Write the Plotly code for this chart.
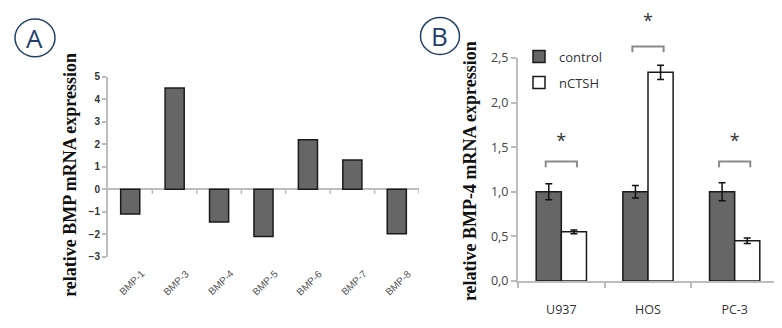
import plotly.graph_objects as go

W, H = 782, 328

# ---------------- data ----------------
genes = ["BMP-1", "BMP-3", "BMP-4", "BMP-5", "BMP-6", "BMP-7", "BMP-8"]
rel_expr = [-1.1, 4.5, -1.45, -2.1, 2.2, 1.3, -1.97]
a_ticks = [-3, -2, -1, 0, 1, 2, 3, 4, 5]

cells = ["U937", "HOS", "PC-3"]
control = [1.0, 1.0, 1.0]
control_err = [0.09, 0.07, 0.1]
nctsh = [0.55, 2.34, 0.45]
nctsh_err = [0.02, 0.08, 0.03]
b_ticks = [0.0, 0.5, 1.0, 1.5, 2.0, 2.5]
b_ticktext = ["0,0", "0,5", "1,0", "1,5", "2,0", "2,5"]
sig_bracket_y = [1.34, 2.63, 1.34]
sig_star_y = [1.55, 2.9, 1.55]

# ---------------- layout geometry (pixels -> paper) ----------------
def px(x):
    return x / W

def py(y):
    return 1 - y / H

ax_a = [px(100), px(411)]
ay_a = [py(253), py(63)]
ax_b = [px(510), px(770)]
ay_b = [py(278.3), py(43.3)]

axis_col = "#bdbdbd"
navy = "#23406a"

fig = go.Figure()

# Panel A bars
fig.add_trace(go.Bar(
    x=genes, y=rel_expr, width=0.43,
    marker=dict(color="#666666", line=dict(color="#1a1a1a", width=1.5)),
    xaxis="x", yaxis="y", showlegend=False,
))

# Panel B bars
fig.add_trace(go.Bar(
    x=cells, y=control, name="control", width=0.29, offset=-0.29,
    marker=dict(color="#666666", line=dict(color="#1a1a1a", width=1.5)),
    error_y=dict(type="data", array=control_err, color="#111", thickness=1.5, width=3.5),
    xaxis="x2", yaxis="y2", legendgroup="a",
))
fig.add_trace(go.Bar(
    x=cells, y=nctsh, name="nCTSH", width=0.29, offset=0.0,
    marker=dict(color="white", line=dict(color="#1a1a1a", width=1.5)),
    error_y=dict(type="data", array=nctsh_err, color="#111", thickness=1.5, width=3.5),
    xaxis="x2", yaxis="y2", legendgroup="b",
))

# significance brackets and stars (overlay subplot that extends above panel B)
bx, by = [], []
for i, h in enumerate(sig_bracket_y):
    bx += [i - 0.18, i - 0.18, i + 0.18, i + 0.18, None]
    by += [h - 0.065, h, h, h - 0.065, None]
fig.add_trace(go.Scatter(
    x=bx, y=by, mode="lines", line=dict(color="#8a8a8a", width=2),
    xaxis="x3", yaxis="y3", showlegend=False, hoverinfo="skip",
))
fig.add_trace(go.Scatter(
    x=list(range(len(cells))), y=sig_star_y, mode="text", text=["*"] * len(cells),
    textfont=dict(family="Open Sans", size=18, color="#333"),
    xaxis="x3", yaxis="y3", showlegend=False, hoverinfo="skip", cliponaxis=False,
))

y3_top = b_ticks[-1] * (1 - ay_b[0]) / (ay_b[1] - ay_b[0])

# small tick marks on the zero line of panel A at category boundaries
tick_len = 5 * (a_ticks[-1] - a_ticks[0]) / (253 - 63)
zero_ticks = [
    dict(type="line", xref="x", yref="y", x0=i + 0.5, x1=i + 0.5, y0=0, y1=-tick_len,
         line=dict(color=axis_col, width=1.5))
    for i in range(len(genes))
]

# rotated category labels of panel A
gene_labels = [
    dict(text=g, xref="x", yref="paper", x=g, y=py(280.5), xshift=2,
         xanchor="center", yanchor="middle", textangle=-44, showarrow=False,
         font=dict(family="Liberation Sans", size=10, color="#555"))
    for g in genes
]

fig.update_layout(
    width=W, height=H, margin=dict(l=0, r=0, t=0, b=0),
    paper_bgcolor="white", plot_bgcolor="rgba(0,0,0,0)",
    barmode="overlay",
    xaxis=dict(
        domain=ax_a, anchor="y", range=[-0.5, len(genes) - 0.5],
        showline=False, ticks="", showticklabels=False,
        showgrid=False, zeroline=False,
    ),
    yaxis=dict(
        domain=ay_a, anchor="x", range=[a_ticks[0], a_ticks[-1]],
        tickvals=a_ticks, showline=True, linecolor=axis_col, linewidth=2,
        ticks="outside", ticklen=4, tickcolor=axis_col, tickwidth=1.5,
        tickfont=dict(family="Liberation Sans", size=10, color="#333", weight="bold"),
        showgrid=False, zeroline=True, zerolinecolor=axis_col, zerolinewidth=2,
    ),
    xaxis2=dict(
        domain=ax_b, anchor="y2",
        showline=True, linecolor=axis_col, linewidth=2,
        ticks="outside", tickson="boundaries", ticklen=5, tickcolor=axis_col, tickwidth=1.5,
        ticklabelstandoff=16,
        tickfont=dict(family="Open Sans", size=12.5, color="#333"),
        showgrid=False, zeroline=False,
    ),
    yaxis2=dict(
        domain=ay_b, anchor="x2", range=[b_ticks[0], b_ticks[-1]],
        tickvals=b_ticks, ticktext=b_ticktext,
        showline=True, linecolor=axis_col, linewidth=2,
        ticks="outside", ticklen=5, tickcolor=axis_col, tickwidth=1.5,
        tickfont=dict(family="Open Sans", size=12.5, color="#444"),
        showgrid=False, zeroline=False,
    ),
    xaxis3=dict(domain=ax_b, anchor="y3", range=[-0.5, len(cells) - 0.5], visible=False),
    yaxis3=dict(domain=[ay_b[0], 1.0], anchor="x3", range=[0, y3_top], visible=False),
    legend=dict(
        x=px(511), y=py(26), xanchor="left", yanchor="top",
        bgcolor="rgba(0,0,0,0)", font=dict(family="Open Sans", size=13, color="#333"),
        itemwidth=30, tracegroupgap=6, traceorder="grouped",
    ),
    shapes=zero_ticks + [
        dict(type="circle", xref="paper", yref="paper",
             x0=px(7), x1=px(47), y0=py(42), y1=py(2),
             line=dict(color=navy, width=1.5)),
        dict(type="circle", xref="paper", yref="paper",
             x0=px(412.5), x1=px(451.5), y0=py(39.5), y1=py(0.5),
             line=dict(color=navy, width=1.5)),
    ],
    annotations=gene_labels + [
        dict(text="A", xref="paper", yref="paper", x=px(27), y=py(22),
             xanchor="center", yanchor="middle", showarrow=False,
             font=dict(family="Open Sans", size=26, color=navy)),
        dict(text="B", xref="paper", yref="paper", x=px(432), y=py(20),
             xanchor="center", yanchor="middle", showarrow=False,
             font=dict(family="Open Sans", size=26, color=navy)),
        dict(text="relative BMP mRNA expression", xref="paper", yref="paper",
             x=px(62), y=py(166.5), xanchor="center", yanchor="middle",
             textangle=-90, showarrow=False,
             font=dict(family="Liberation Serif", size=18, color="#111", weight="bold")),
        dict(text="relative BMP-4 mRNA expression", xref="paper", yref="paper",
             x=px(462), y=py(162.5), xanchor="center", yanchor="middle",
             textangle=-90, showarrow=False,
             font=dict(family="Liberation Serif", size=18, color="#111", weight="bold")),
    ],
)

fig.write_html("out.html")
